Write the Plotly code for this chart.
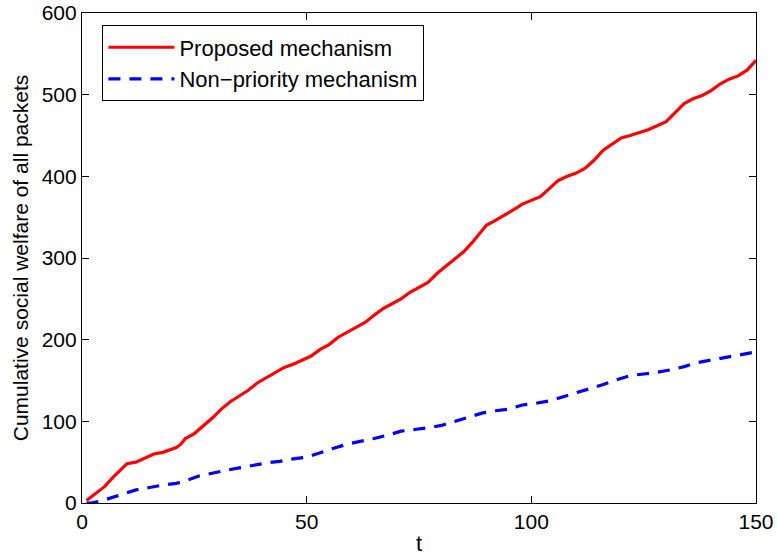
import plotly.graph_objects as go

# Cumulative social welfare over time for the two scheduling mechanisms
t_proposed = [1, 3, 5, 7, 9, 10, 12, 14, 16, 18, 20, 21, 22, 23, 25, 27, 29, 31, 33, 35,
              37, 39, 41, 43, 45, 47, 49, 51, 53, 55, 57, 59, 61, 63, 65, 67, 69, 71, 73, 75,
              77, 79, 81, 83, 85, 87, 89, 90, 92, 94, 96, 98, 100, 102, 104, 106, 108, 110,
              112, 114, 116, 118, 120, 122, 124, 126, 128, 130, 132, 134, 136, 138, 140, 142,
              144, 146, 148, 150]
welfare_proposed = [3, 11, 20, 32, 43, 48, 50, 55, 60, 62, 66, 68, 72, 79, 85, 94, 104, 115, 124, 131,
                    138, 147, 153, 159, 166, 170, 175, 180, 188, 194, 203, 209, 216, 221, 230, 238, 244, 250, 258, 264,
                    270, 281, 290, 300, 308, 320, 333, 340, 346, 352, 359, 366, 371, 375, 385, 395, 400, 404,
                    410, 420, 432, 440, 447, 450, 453, 457, 462, 467, 478, 489, 495, 499, 505, 513,
                    519, 523, 530, 542]

t_nonpriority = [1, 2, 4, 7, 10, 12, 15, 18, 21, 23, 26, 29, 32, 35, 38, 41, 44, 47, 50, 53,
                 56, 59, 62, 65, 68, 71, 74, 77, 80, 83, 86, 89, 92, 95, 98, 101, 104, 107, 110, 113,
                 116, 119, 122, 125, 128, 131, 134, 137, 140, 143, 146, 150]
welfare_nonpriority = [0, 0, 2, 7, 13, 16, 19, 22, 24, 27, 33, 37, 40, 43, 46, 49, 51, 54, 56, 62,
                       67, 72, 76, 79, 83, 88, 90, 92, 95, 100, 105, 110, 113, 115, 120, 122, 125, 130, 134, 139,
                       145, 151, 156, 158, 160, 163, 167, 172, 175, 178, 181, 185]

x_ticks = [0, 50, 100, 150]
y_ticks = [0, 100, 200, 300, 400, 500, 600]

FONT = "Liberation Sans, Arial, Helvetica, sans-serif"

fig = go.Figure()
fig.add_trace(go.Scatter(
    x=t_proposed, y=welfare_proposed, mode="lines", name="Proposed mechanism",
    line=dict(color="#ff0000", width=3.2),
))
fig.add_trace(go.Scatter(
    x=t_nonpriority, y=welfare_nonpriority, mode="lines", name="Non\u2212priority mechanism",
    line=dict(color="#0000ff", width=3.2, dash="12px,9px"),
))

axis_common = dict(
    showline=True, linecolor="black", linewidth=1.2, mirror="ticks",
    ticks="inside", ticklen=7, tickwidth=1, tickcolor="black",
    showgrid=False, zeroline=False, ticklabeloverflow="allow", automargin=False,
    tickfont=dict(family=FONT, size=21, color="black"),
)

fig.update_layout(
    width=778, height=560,
    margin=dict(l=82, r=22, t=13, b=57),
    paper_bgcolor="white", plot_bgcolor="white",
    font=dict(family=FONT, size=22, color="black"),
    xaxis=dict(range=[0, 150], tickvals=x_ticks,
               title=dict(text="t", font=dict(family=FONT, size=22), standoff=3),
               **axis_common),
    yaxis=dict(range=[0, 600], tickvals=y_ticks,
               title=dict(text="Cumulative social welfare of all packets",
                          font=dict(family=FONT, size=21), standoff=7),
               **axis_common),
    legend=dict(
        x=0.03, y=0.975, xanchor="left", yanchor="top",
        bgcolor="white", bordercolor="black", borderwidth=1.2,
        font=dict(family=FONT, size=22, color="black"),
        tracegroupgap=0, itemwidth=66,
    ),
    showlegend=True,
)

fig.write_html("out.html")
